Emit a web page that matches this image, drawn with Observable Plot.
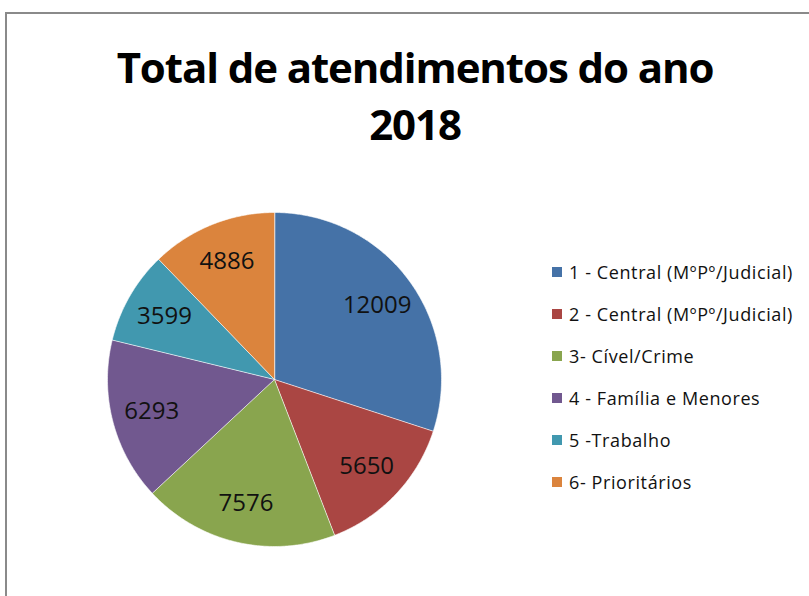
<!DOCTYPE html>
<html>
<head>
<meta charset="utf-8">
<script src="https://cdn.jsdelivr.net/npm/d3@7"></script>
<script src="https://cdn.jsdelivr.net/npm/@observablehq/plot@0.6"></script>
<style>
  html, body { margin: 0; padding: 0; background: #fff; }
  body { width: 809px; height: 596px; position: relative; overflow: hidden; }
  #frame { position: absolute; left: 5px; top: 12px; width: 900px; height: 700px;
           border-left: 2px solid #8a8a8a; border-top: 2px solid #8a8a8a; box-sizing: border-box; }
  #chart { position: absolute; left: 0; top: 0; }
  #title { position: absolute; left: 0; width: 830px; top: 38px; text-align: center;
           font-family: "Open Sans", sans-serif; font-weight: bold;
           font-size: 42px; letter-spacing: -1.1px; line-height: 57px; color: #000; }
  #legend { position: absolute; left: 552px; top: 251px;
            font-family: "Open Sans", sans-serif; font-size: 18px; letter-spacing: 0.6px; color: #111; }
  .item { height: 42px; display: flex; align-items: center; }
  .sw { width: 10px; height: 10px; margin-right: 7px; flex: none; }
</style>
</head>
<body>
<div id="frame"></div>
<div id="chart"></div>
<div id="title">Total de atendimentos do ano<br>2018</div>
<div id="legend"></div>
<script>
const categories = ["1 - Central (MºPº/Judicial)", "2 - Central (MºPº/Judicial)", "3- Cível/Crime", "4 - Família e Menores", "5 -Trabalho", "6- Prioritários"];
const values = [12009, 5650, 7576, 6293, 3599, 4886];
const colors = ["#4572A7", "#AA4643", "#89A54E", "#71588F", "#4198AF", "#DB843D"];

// pie geometry in unit coordinates (clockwise from 12 o'clock)
const arcs = d3.pie().sort(null).value(d => d)(values);
const pts = [];
const labels = [];
arcs.forEach((a, i) => {
  const cat = categories[i];
  pts.push({cat, x: 0, y: 0});
  const n = Math.max(2, Math.ceil((a.endAngle - a.startAngle) / 0.01));
  for (let k = 0; k <= n; k++) {
    const t = a.startAngle + (a.endAngle - a.startAngle) * k / n;
    pts.push({cat, x: Math.sin(t), y: Math.cos(t)});
  }
  const m = (a.startAngle + a.endAngle) / 2;
  const r = 0.76;
  labels.push({cat, x: Math.sin(m) * r, y: Math.cos(m) * r, text: String(values[i])});
});

const chart = Plot.plot({
  width: 809,
  height: 596,
  margin: 0,
  x: {domain: [-1, 1], range: [107, 441], axis: null},
  y: {domain: [-1, 1], range: [546, 212], axis: null},
  color: {domain: categories, range: colors},
  style: {fontFamily: "'Open Sans', sans-serif", background: "transparent"},
  marks: [
    Plot.line(pts, {x: "x", y: "y", z: "cat", fill: "cat", stroke: "#ffffff", strokeWidth: 0.6, curve: "linear-closed"}),
    Plot.text(labels, {x: "x", y: "y", text: "text", fontSize: 24, fill: "#111", lineAnchor: "middle"})
  ]
});
document.getElementById("chart").appendChild(chart);

const legend = document.getElementById("legend");
categories.forEach((c, i) => {
  const row = document.createElement("div");
  row.className = "item";
  const sw = document.createElement("span");
  sw.className = "sw";
  sw.style.background = colors[i];
  const tx = document.createElement("span");
  tx.textContent = c;
  row.appendChild(sw);
  row.appendChild(tx);
  legend.appendChild(row);
});
</script>
</body>
</html>
